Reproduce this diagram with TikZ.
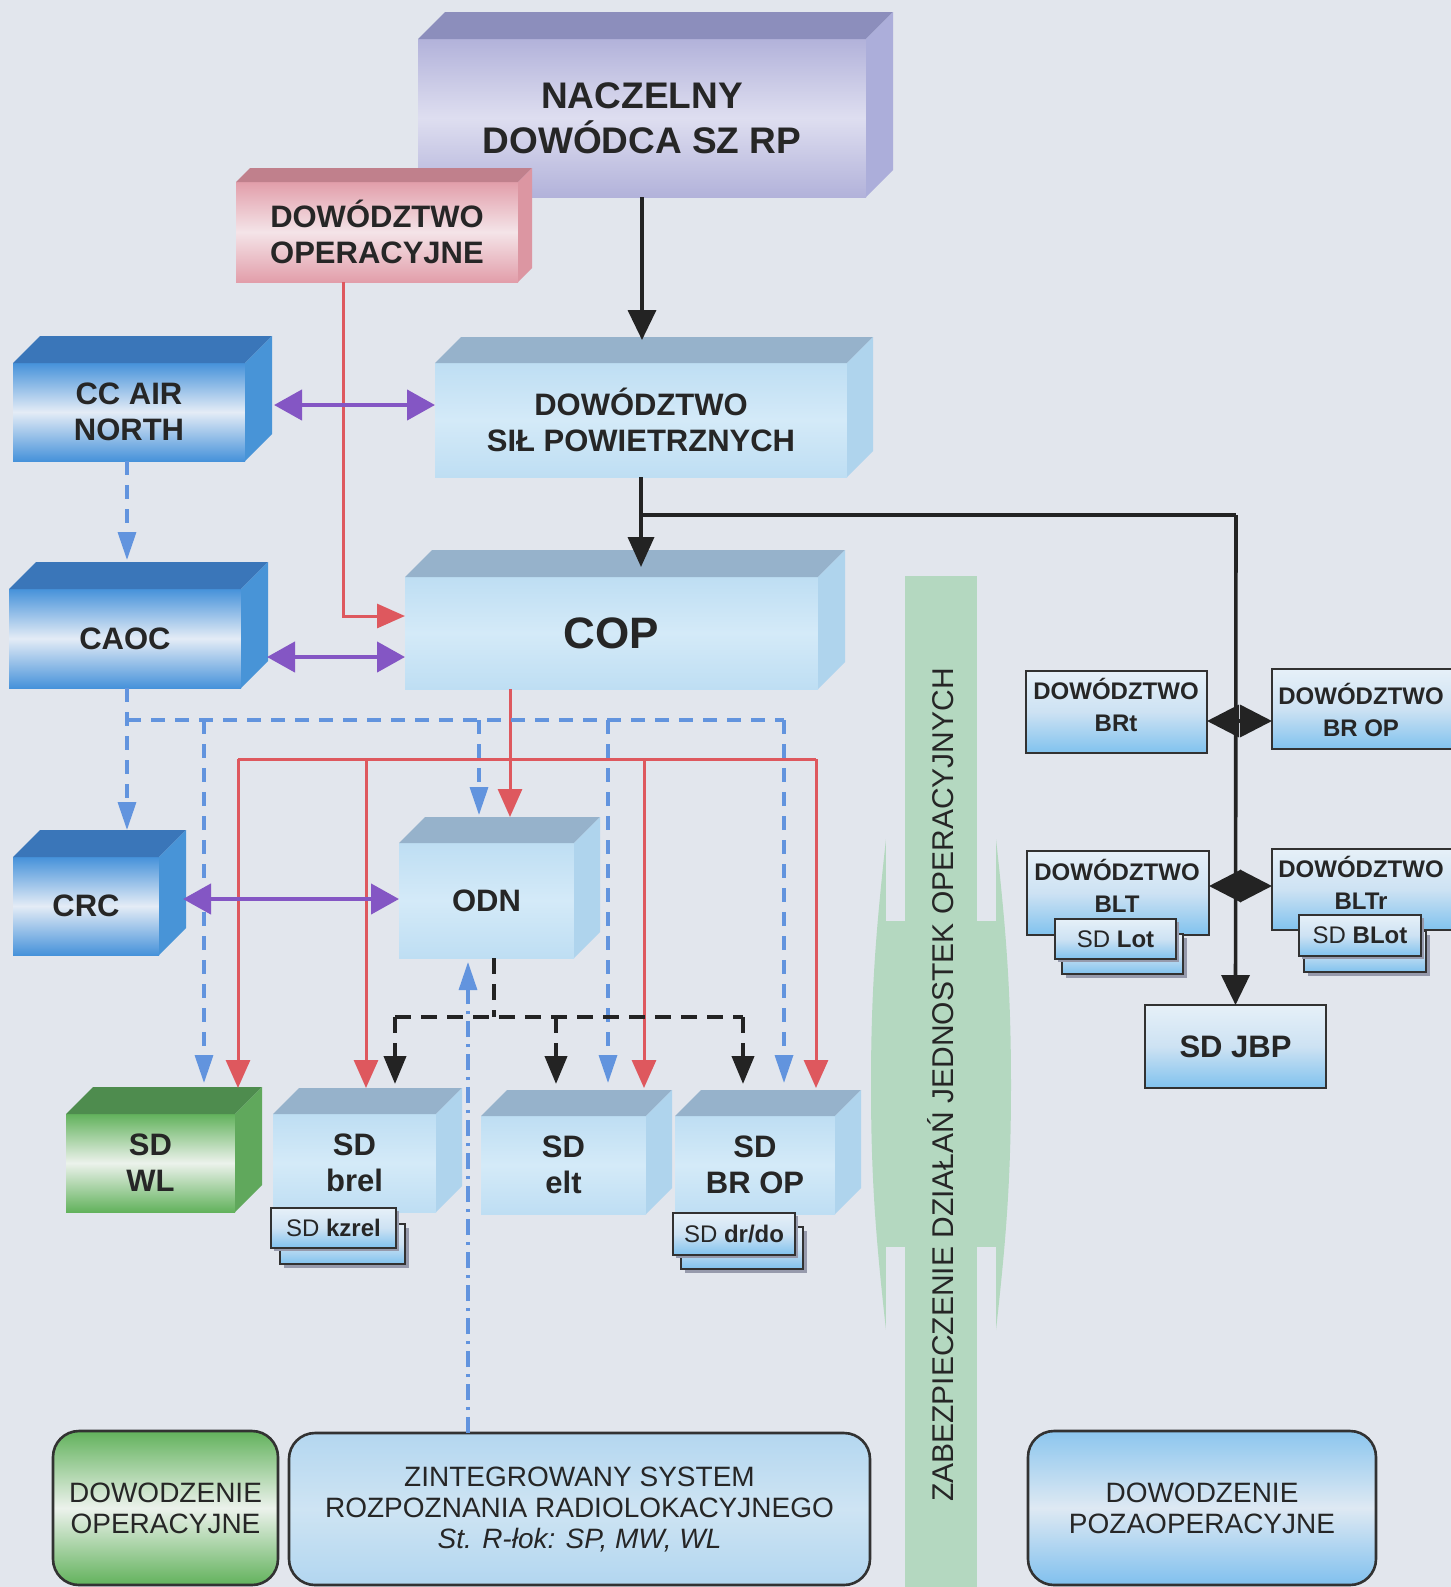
\documentclass[tikz,border=0pt]{standalone}
\usepackage{fontspec}
\setmainfont{Liberation Sans}
\usetikzlibrary{arrows.meta,calc}
\definecolor{bg}{RGB}{226,230,237}
\definecolor{txt}{RGB}{38,38,38}
\definecolor{dk}{RGB}{50,50,50}
\definecolor{lavA}{RGB}{178,178,218}\definecolor{lavM}{RGB}{222,222,240}\definecolor{lavT}{RGB}{140,142,188}\definecolor{lavS}{RGB}{172,174,218}
\definecolor{pinA}{RGB}{226,158,170}\definecolor{pinM}{RGB}{244,228,232}\definecolor{pinT}{RGB}{192,128,140}\definecolor{pinS}{RGB}{220,150,162}
\definecolor{bluA}{RGB}{70,146,218}\definecolor{bluM}{RGB}{228,236,246}\definecolor{bluT}{RGB}{58,118,185}\definecolor{bluS}{RGB}{72,148,215}
\definecolor{lblA}{RGB}{190,222,243}\definecolor{lblM}{RGB}{212,234,248}\definecolor{lblT}{RGB}{150,178,203}\definecolor{lblS}{RGB}{175,212,237}
\definecolor{grnA}{RGB}{98,178,92}\definecolor{grnM}{RGB}{236,242,236}\definecolor{grnT}{RGB}{78,140,78}\definecolor{grnS}{RGB}{96,168,92}
\definecolor{band}{RGB}{180,216,192}
\definecolor{redc}{RGB}{222,88,94}
\definecolor{bluec}{RGB}{98,148,222}
\definecolor{purpc}{RGB}{132,86,196}
\definecolor{blkc}{RGB}{35,35,35}
\definecolor{shad}{RGB}{150,154,172}
\definecolor{flatT}{RGB}{230,240,248}\definecolor{flatM}{RGB}{205,226,243}\definecolor{flatB}{RGB}{128,194,238}

\tikzset{
  face/.style={inner sep=0pt, outer sep=0pt, align=center, text=txt, font=\bfseries\fontsize{15.5}{18}\selectfont},
  flat/.style={draw=dk, line width=1.2pt, inner sep=0pt, outer sep=0pt, top color=flatT, bottom color=flatB, middle color=flatM, align=center, text=txt},
  subbox/.style={draw=dk, line width=1.2pt, inner sep=0pt, outer sep=0pt, top color=flatT, bottom color=flatB, middle color=flatM, text=txt, font=\fontsize{12}{14}\selectfont},
  rtext/.style={align=center, text=txt, font=\bfseries\fontsize{12}{15.7}\selectfont, inner sep=0pt},
  rbox/.style={draw=dk, line width=1.3pt, rounded corners=13pt, inner sep=0pt, outer sep=0pt, align=center, text=txt, font=\fontsize{14}{15.5}\selectfont},
  tipR/.tip={Triangle[length=14pt,width=12pt]},
  tipB/.tip={Triangle[length=14pt,width=9pt]},
  tipK/.tip={Triangle[length=14pt,width=11pt]},
  tipP/.tip={Triangle[length=14pt,width=15pt]},
  tipD/.tip={Triangle[length=16pt,width=16pt]},
  redl/.style={draw=redc, line width=1.5pt},
  bluel/.style={draw=bluec, line width=1.7pt, dash pattern=on 7pt off 5pt},
  bluedd/.style={draw=bluec, line width=1.6pt, dash pattern=on 8pt off 3.5pt on 1.5pt off 3.5pt},
  blk/.style={draw=blkc, line width=1.8pt},
  blkd/.style={draw=blkc, line width=2pt, dash pattern=on 8pt off 5pt},
  purp/.style={draw=purpc, line width=2.2pt, {tipP}-{tipP}},
}

\newcommand{\Cube}[9][]{%
  \pgfmathsetmacro{\cw}{(#5-#3)*0.5}%
  \pgfmathsetmacro{\ch}{(#6-#4)*0.5}%
  \node[face, minimum width=\cw pt, minimum height=\ch pt, top color=#8A, bottom color=#8A, middle color=#8M, #1] (#2) at ({(#3+#5)/2},{(#4+#6)/2}) {#9};
  \fill[#8T] (#2.north west) -- ++(#7,-#7) -- ++({#5-#3},0) -- (#2.north east) -- cycle;
  \fill[#8S] (#2.north east) -- ++(#7,-#7) -- ++(0,{#6-#4}) -- (#2.south east) -- cycle;
}
\newcommand{\Sub}[8]{%
  \fill[shad] ({#2+#6+4},{#3+#7+4}) rectangle ({#4+#6+4},{#5+#7+4});
  \draw[subbox] ({#2+#6},{#3+#7}) rectangle ({#4+#6},{#5+#7});
  \pgfmathsetmacro{\cw}{(#4-#2)*0.5}%
  \pgfmathsetmacro{\ch}{(#5-#3)*0.5}%
  \fill[shad] ({#2+3},{#3+3}) rectangle ({#4+3},{#5+3});
  \node[subbox, minimum width=\cw pt, minimum height=\ch pt] (#1) at ({(#2+#4)/2},{(#3+#5)/2}) {#8};
}
\newcommand{\Flat}[6][]{%
  \pgfmathsetmacro{\cw}{(#5-#3)*0.5}%
  \pgfmathsetmacro{\ch}{(#6-#4)*0.5}%
  \node[flat, minimum width=\cw pt, minimum height=\ch pt, #1] (#2) at ({(#3+#5)/2},{(#4+#6)/2}) {};
}

\begin{document}
\begin{tikzpicture}[x=0.5pt,y=-0.5pt]
\useasboundingbox (0,0) rectangle (1451,1587);
\fill[bg] (0,0) rectangle (1451,1587);

% green band with double arrow
\fill[band] (886,839) .. controls (876,930) and (871,990) .. (871,1085) .. controls (871,1180) and (876,1240) .. (886,1330)
  -- (996,1330) .. controls (1006,1240) and (1011,1180) .. (1011,1085) .. controls (1011,990) and (1006,930) .. (996,839) -- cycle;
\fill[bg] (886,838) rectangle (905,921);
\fill[bg] (977,838) rectangle (996,921);
\fill[bg] (886,1247) rectangle (905,1331);
\fill[bg] (977,1247) rectangle (996,1331);
\fill[band] (905,576) rectangle (977,1587);
\node[rotate=90, text=txt, font=\fontsize{15}{18}\selectfont, inner sep=0pt] (zab) at (941,1085) {ZABEZPIECZENIE DZIAŁAŃ JEDNOSTEK OPERACYJNYCH};

% 3D boxes
\Cube[font=\bfseries\fontsize{18.5}{22.3}\selectfont]{nacz}{418}{39}{866}{197}{27}{lav}{NACZELNY\\DOWÓDCA SZ RP}
\Cube{dopr}{236}{182}{518}{282}{14}{pin}{DOWÓDZTWO\\OPERACYJNE}
\Cube{ccair}{13}{363}{245}{461}{27}{blu}{CC AIR\\NORTH}
\Cube{dsp}{435}{363}{847}{477}{26}{lbl}{DOWÓDZTWO\\SIŁ POWIETRZNYCH}
\Cube[font=\bfseries\fontsize{22}{26}\selectfont]{cop}{405}{577}{818}{689}{27}{lbl}{COP}
\Cube{caoc}{9}{589}{241}{688}{27}{blu}{CAOC}
\Cube{crc}{13}{857}{159}{955}{27}{blu}{CRC}
\Cube{odn}{399}{843}{574}{958}{26}{lbl}{ODN}
\Cube{sdwl}{66}{1114}{235}{1212}{27}{grn}{SD\\WL}
\Cube{sdbrel}{273}{1114}{436}{1212}{26}{lbl}{SD\\brel}
\Cube{sdelt}{481}{1116}{646}{1214}{26}{lbl}{SD\\elt}
\Cube{sdbrop}{675}{1116}{835}{1214}{26}{lbl}{SD\\BR OP}

\Sub{kzrel}{271}{1208}{396}{1248}{9}{16}{SD \textbf{kzrel}}
\Sub{drdo}{673}{1213}{795}{1255}{8}{14}{SD \textbf{dr/do}}

% right flat boxes
\Flat{brt}{1026}{671}{1207}{753}
\node[rtext] (brtT) at (1116,705) {DOWÓDZTWO\\BRt};
\Flat{brop}{1272}{669}{1456}{749}
\node[rtext] (bropT) at (1361,710) {DOWÓDZTWO\\BR OP};
\Flat{blt}{1027}{851}{1209}{935}
\node[rtext] (bltT) at (1117,886) {DOWÓDZTWO\\BLT};
\Flat{bltr}{1272}{849}{1456}{930}
\node[rtext] (bltrT) at (1361,883) {DOWÓDZTWO\\BLTr};
\Sub{sdlot}{1055}{919}{1176}{959}{7}{15}{SD \textbf{Lot}}
\Sub{sdblot}{1299}{915}{1421}{956}{5}{16}{SD \textbf{BLot}}
\Flat[font=\bfseries\fontsize{15.5}{18}\selectfont]{jbp}{1145}{1005}{1326}{1088}
\node[face] (jbpT) at (jbp.center) {SD JBP};

% bottom rounded boxes
\node[rbox, minimum width=112.5pt, minimum height=77pt, top color=grnA, bottom color=grnA, middle color=grnM] (dowop) at (165.5,1508) {DOWODZENIE\\OPERACYJNE};
\node[rbox, minimum width=290.5pt, minimum height=76pt, top color={rgb,255:red,180;green,215;blue,240}, bottom color={rgb,255:red,178;green,214;blue,240}, middle color={rgb,255:red,206;green,228;blue,243}] (zsrr) at (579.5,1509) {ZINTEGROWANY SYSTEM\\ROZPOZNANIA RADIOLOKACYJNEGO\\\textit{St. R-łok: SP, MW, WL}};
\node[rbox, minimum width=174pt, minimum height=77pt, top color={rgb,255:red,140;green,198;blue,238}, bottom color={rgb,255:red,128;green,192;blue,238}, middle color={rgb,255:red,222;green,233;blue,243}] (dowpoz) at (1202,1508) {DOWODZENIE\\POZAOPERACYJNE};

% ---------- connectors ----------
% red
\coordinate (r1) at (343,616);
\draw[redl, -{tipR}] (r1 |- dopr.south) -- (r1) -- (r1 -| cop.west);
\coordinate (rc) at (510,759);
\draw[redl, -{tipR}] (rc |- cop.south) -- (510,817);
\coordinate (rb1) at (238,759);
\coordinate (rb2) at (366,759);
\coordinate (rb3) at (644,759);
\coordinate (rb4) at (816,759);
\draw[redl] (rb1) -- (rb4);
\draw[redl, -{tipR}] (rb1) -- (238,1088);
\draw[redl, -{tipR}] (rb2) -- (366,1088);
\draw[redl, -{tipR}] (rb3) -- (644,1088);
\draw[redl, -{tipR}] (rb4) -- (816,1088);

% blue dashed
\coordinate (bx) at (127,720);
\draw[bluel, -{tipB}] (bx |- ccair.south) -- (127,560);
\draw[bluel, -{tipB}] (bx |- caoc.south) -- (127,830);
\draw[bluel] (bx) -- (784,720);
\draw[bluel, -{tipB}] (204,720) -- (204,1083);
\draw[bluel, -{tipB}] (479,720) -- (479,815);
\draw[bluel, -{tipB}] (608,720) -- (608,1083);
\draw[bluel, -{tipB}] (784,720) -- (784,1083);

% black dashed
\coordinate (kd) at (494,1017);
\draw[blkd] (kd |- odn.south) -- (kd);
\draw[blkd] (395,1017) -- (743,1017);
\draw[blkd, -{tipK}] (395,1017) -- (395,1084);
\draw[blkd, -{tipK}] (556,1017) -- (556,1084);
\draw[blkd, -{tipK}] (743,1017) -- (743,1084);

% dash-dot blue from radar system
\coordinate (dd) at (468,962);
\draw[bluedd, -{tipB}] (dd |- zsrr.north) -- (dd);

% purple
\coordinate (p1) at (274,405);
\draw[purp] (p1) -- (p1 -| dsp.west);
\coordinate (p2) at (267,657);
\draw[purp] (p2) -- (p2 -| cop.west);
\coordinate (p3) at (183,899);
\draw[purp] (p3) -- (p3 -| odn.west);

% black solid
\draw[blk, -{Triangle[length=15pt,width=14pt]}] (nacz.south) -- ($(dsp.north)+(1,-23)$);
\coordinate (jb) at (641,515);
\coordinate (jr) at (1236,515);
\draw[blk, -{Triangle[length=15pt,width=13pt]}] (dsp.south) -- (dsp.south |- 0,567);
\draw[blk] (jb) -- (jr);
\draw[blk, -{Triangle[length=15pt,width=14pt]}] (jr) -- (jbp.north);
\coordinate (d1) at (1236,721);
\coordinate (d2) at (1236,886);
\draw[blk, {tipD}-{tipD}] (brt.east |- d1) -- (brop.west |- d1);
\draw[blk, {tipD}-{tipD}] (blt.east |- d2) -- (bltr.west |- d2);
\end{tikzpicture}
\end{document}
